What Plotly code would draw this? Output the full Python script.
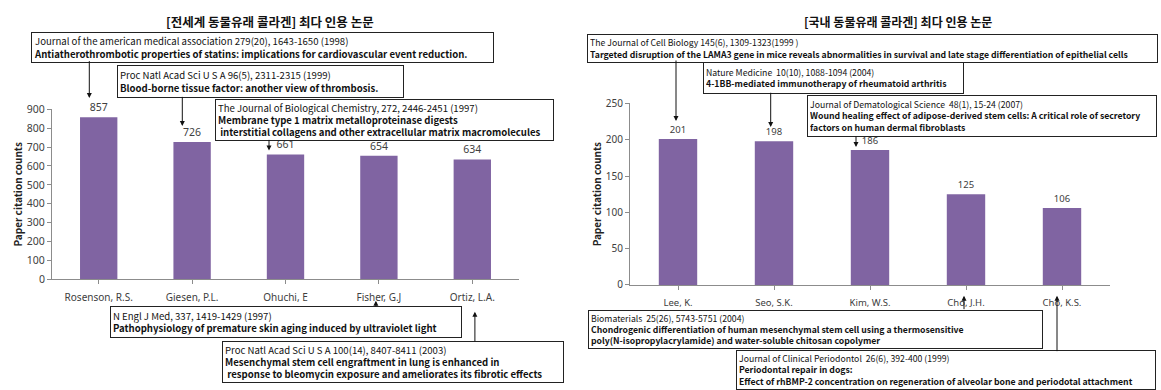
import plotly.graph_objects as go

W, H = 1161, 390

# ---------------- data ----------------
world_authors = ["Rosenson, R.S.", "Giesen, P.L.", "Ohuchi, E", "Fisher, G.J", "Ortiz, L.A."]
world_counts = [857, 726, 661, 654, 634]
world_ticks = [0, 100, 200, 300, 400, 500, 600, 700, 800, 900]

korea_authors = ["Lee, K.", "Seo, S.K.", "Kim, W.S.", "Cho, J.H.", "Cho, K.S."]
korea_counts = [201, 198, 186, 125, 106]
korea_ticks = [0, 50, 100, 150, 200, 250]

title_world = "[전세계 동물유래 콜라겐] 최다 인용 논문"
title_korea = "[국내 동물유래 콜라겐] 최다 인용 논문"
y_title = "Paper citation counts"

world_refs = [
    "Journal of the american medical association 279(20), 1643-1650 (1998)",
    "Proc Natl Acad Sci U S A 96(5), 2311-2315 (1999)",
    "The Journal of Biological Chemistry, 272, 2446-2451 (1997)",
    "N Engl J Med, 337, 1419-1429 (1997)",
    "Proc Natl Acad Sci U S A 100(14), 8407-8411 (2003)",
]
world_titles = [
    ["Antiatherothrombotic properties of statins: implications for cardiovascular event reduction."],
    ["Blood-borne tissue factor: another view of thrombosis."],
    ["Membrane type 1 matrix metalloproteinase digests",
     " interstitial collagens and other extracellular matrix macromolecules"],
    ["Pathophysiology of premature skin aging induced by ultraviolet light"],
    ["Mesenchymal stem cell engraftment in lung is enhanced in",
     " response to bleomycin exposure and ameliorates its fibrotic effects"],
]
korea_refs = [
    "The Journal of Cell Biology 145(6), 1309-1323(1999 )",
    "Nature Medicine  10(10), 1088-1094 (2004)",
    "Journal of Dematological Science  48(1), 15-24 (2007)",
    "Biomaterials  25(26), 5743-5751 (2004)",
    "Journal of Clinical Periodontol  26(6), 392-400 (1999)",
]
korea_titles = [
    ["Targeted disruption of the LAMA3 gene in mice reveals abnormalities in survival and late stage differentiation of epithelial cells"],
    ["4-1BB-mediated immunotherapy of rheumatoid arthritis"],
    ["Wound healing effect of adipose-derived stem cells: A critical role of secretory",
     "factors on human dermal fibroblasts"],
    ["Chondrogenic differentiation of human mesenchymal stem cell using a thermosensitive",
     "poly(N-isopropylacrylamide) and water-soluble chitosan copolymer"],
    ["Periodontal repair in dogs:",
     "Effect of rhBMP-2 concentration on regeneration of alveolar bone and periodotal attachment"],
]

# ---------------- style / layout ----------------
BAR = "#8064A2"
TXT = "#404040"
AX = "#8C8C8C"
CJK = "Noto Sans CJK KR"
LAT = "Noto Sans"

def px(x):
    return x / W

def py(y):
    return 1 - y / H

fig = go.Figure()
fig.add_trace(go.Bar(
    x=world_authors, y=world_counts, xaxis="x", yaxis="y",
    marker=dict(color=BAR, line=dict(width=0)), width=0.4,
    text=world_counts, textposition="outside", cliponaxis=False,
    textfont=dict(family=LAT, size=10.5, color=TXT),
))
fig.add_trace(go.Bar(
    x=korea_authors, y=korea_counts, xaxis="x2", yaxis="y2",
    marker=dict(color=BAR, line=dict(width=0)), width=0.4,
    text=korea_counts, textposition="outside", cliponaxis=False,
    textfont=dict(family=LAT, size=9.5, color=TXT),
))

def xaxis(domain, anchor, size):
    return dict(domain=domain, anchor=anchor, showline=True, linecolor=AX, linewidth=1,
                ticks="outside", ticklen=4, tickcolor=AX, showgrid=False, zeroline=False,
                tickfont=dict(family=LAT, size=size, color=TXT), ticklabelstandoff=5,
                fixedrange=True)

def yaxis(domain, anchor, rng, ticks, size):
    return dict(domain=domain, anchor=anchor, range=rng, tickvals=ticks, showline=True,
                linecolor=AX, linewidth=1, ticks="outside", ticklen=4, tickcolor=AX,
                showgrid=False, zeroline=False,
                tickfont=dict(family=LAT, size=size, color=TXT),
                title=dict(text="<b>" + y_title + "</b>", font=dict(family=CJK, size=10, color="#222"),
                           standoff=2),
                fixedrange=True)

fig.update_layout(
    width=W, height=H, margin=dict(l=0, r=0, t=0, b=0),
    paper_bgcolor="white", plot_bgcolor="white", showlegend=False,
    bargap=0.6,
    xaxis=xaxis([px(52), px(519)], "y", 10),
    yaxis=yaxis([py(282.5), py(106)], "x", [0, 900], world_ticks, 10.5),
    xaxis2=xaxis([px(630), px(1110)], "y2", 9.5),
    yaxis2=yaxis([py(288.3), py(100)], "x2", [0, 250], korea_ticks, 10),
)

annotations = []

# chart titles
annotations.append(dict(text="<b>" + title_world + "</b>", x=px(270), y=py(15), xref="paper", yref="paper",
                        xanchor="center", yanchor="middle", showarrow=False,
                        font=dict(family=CJK, size=12.5, color="#111")))
annotations.append(dict(text="<b>" + title_korea + "</b>", x=px(898), y=py(15), xref="paper", yref="paper",
                        xanchor="center", yanchor="middle", showarrow=False,
                        font=dict(family=CJK, size=12, color="#111")))

# reference boxes: (left, top, right, bottom) in px
world_boxes = [(31, 26, 494, 57), (117, 60, 404, 93), (215, 95, 554, 137),
               (110, 310.5, 462, 342), (222, 346, 564, 388)]
korea_boxes = [(587, 28, 1158, 57), (703, 57, 964, 89), (807, 91, 1157, 133),
               (588, 314, 1043, 353), (736, 356, 1156, 396)]

PAD = 2
def box(ref, lines, rect, size):
    l, t, r, b = rect
    txt = ref + "".join("<br><b>" + s + "</b>" for s in lines)
    return dict(text=txt, x=px(l), y=py(t), xref="paper", yref="paper", xanchor="left", yanchor="top",
                showarrow=False, align="left", valign="middle",
                width=(r - l) - 2 * (1 + PAD), height=(b - t) - 2 * (1 + PAD),
                bordercolor="#222", borderwidth=1, borderpad=PAD, bgcolor="white",
                font=dict(family=CJK, size=size, color="#111"))

for ref, lines, rect in zip(world_refs, world_titles, world_boxes):
    annotations.append(box(ref, lines, rect, 9.6))
for ref, lines, rect in zip(korea_refs, korea_titles, korea_boxes):
    annotations.append(box(ref, lines, rect, 8.7))

# arrows anchored to bars: (category index, dx px, dy px above bar top / below baseline, length px, direction)
world_arrows = [(0, -9.4, 19.4, 38.3, "down"), (1, -9.8, 16, 30.7, "down"), (2, -16.5, 4, 12, "down"),
                (3, -3, -21.5, 7, "up"), (4, 2.6, -32.5, 31, "up")]
korea_arrows = [(0, -2, 18, 62, "down"), (1, -3.3, 14.2, 35.7, "down"), (2, -14, 3, 12, "down"),
                (3, -2, -10.7, 15, "up"), (4, -5, -10.7, 57, "up")]

def arrow(cats, vals, xr, yr, spec):
    i, dx, dy, ln, d = spec
    yv = vals[i] if d == "down" else 0
    return dict(text="", x=cats[i], y=yv, xref=xr, yref=yr, xshift=dx, yshift=dy,
                showarrow=True, arrowhead=2, arrowsize=1, arrowwidth=1, arrowcolor="#111",
                ax=0, ay=(-ln if d == "down" else ln), standoff=0)

for s in world_arrows:
    annotations.append(arrow(world_authors, world_counts, "x", "y", s))
for s in korea_arrows:
    annotations.append(arrow(korea_authors, korea_counts, "x2", "y2", s))

fig.update_layout(annotations=annotations)
fig.write_html("out.html", config={"displayModeBar": False},
               post_script="document.body.style.margin='0px';document.body.style.overflow='hidden';")
